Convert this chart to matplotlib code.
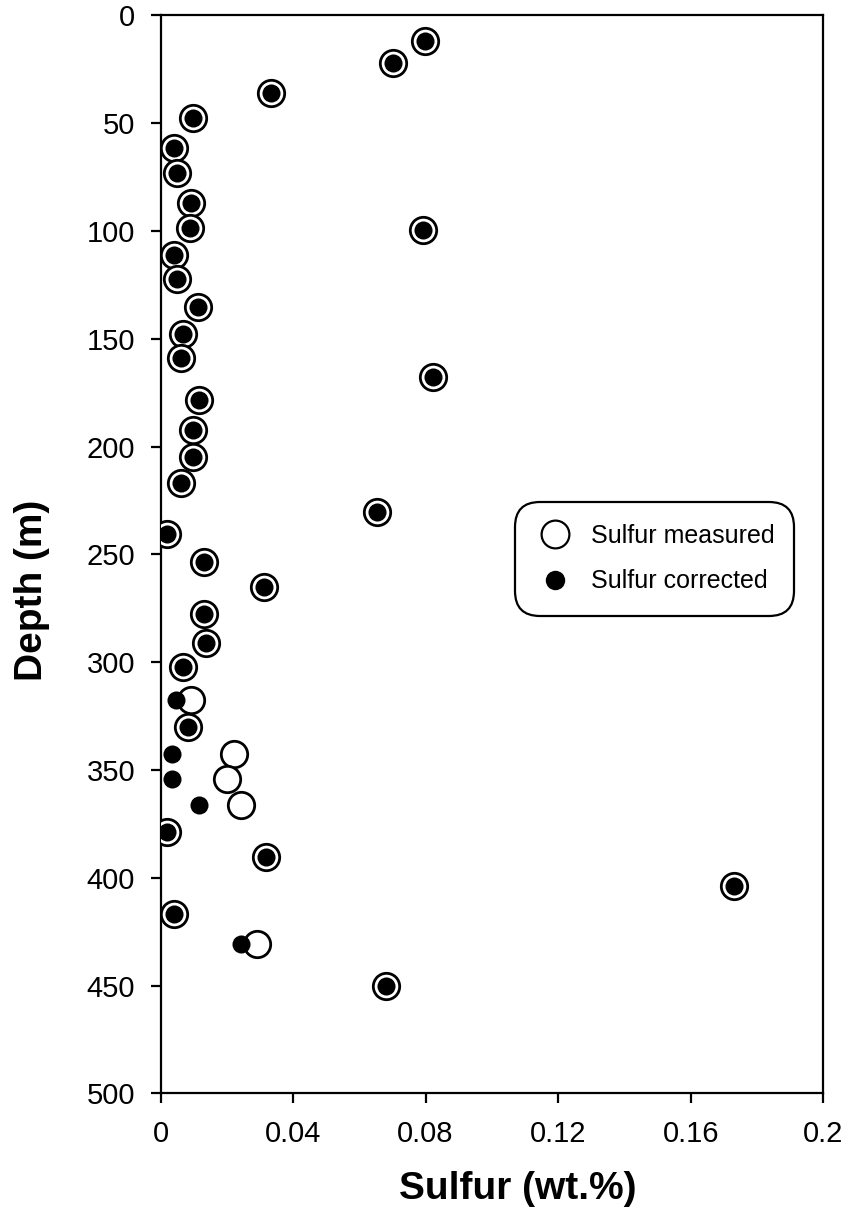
#!/usr/bin/env python3

from matplotlib import pyplot as plt
from matplotlib.lines import Line2D

# depth (m) and sulfur (wt.%)
depth = [11.8, 22.2, 36.1, 47.7, 61.6, 73.2, 86.8, 98.7, 99.5, 111.1,
         122.4, 135.3, 147.7, 159.0, 167.8, 178.3, 192.3, 204.9, 216.7, 230.1,
         240.6, 253.3, 265.2, 277.7, 290.9, 302.3, 317.5, 330.0, 342.5, 354.0,
         366.0, 378.6, 390.2, 404.0, 416.9, 430.8, 450.1]
s_measured = [0.0798, 0.0702, 0.0332, 0.0097, 0.0042, 0.0049, 0.0091, 0.0089, 0.0791, 0.0042,
              0.0049, 0.0112, 0.0069, 0.0061, 0.0821, 0.0117, 0.0097, 0.0097, 0.0062, 0.0652,
              0.0019, 0.0132, 0.0312, 0.0132, 0.0137, 0.0069, 0.0091, 0.0084, 0.0223, 0.0200,
              0.0242, 0.0021, 0.0318, 0.1730, 0.0041, 0.0290, 0.0680]
s_corrected = [0.0798, 0.0702, 0.0332, 0.0097, 0.0042, 0.0049, 0.0091, 0.0089, 0.0791, 0.0042,
               0.0049, 0.0112, 0.0069, 0.0061, 0.0821, 0.0117, 0.0097, 0.0097, 0.0062, 0.0652,
               0.0019, 0.0132, 0.0312, 0.0132, 0.0137, 0.0069, 0.0047, 0.0084, 0.0034, 0.0034,
               0.0117, 0.0021, 0.0318, 0.1730, 0.0041, 0.0242, 0.0680]

xticks = [0, 0.04, 0.08, 0.12, 0.16, 0.2]
xticklabels = ['0', '0.04', '0.08', '0.12', '0.16', '0.2']
yticks = [0, 50, 100, 150, 200, 250, 300, 350, 400, 450, 500]

plt.rcParams['font.family'] = ['Liberation Sans', 'DejaVu Sans']

fig = plt.figure(figsize=(8.56, 12.17), dpi=100)
ax = fig.add_axes([0.1875, 0.1015, 0.7743, 0.8858])

ax.plot(s_measured, depth, ls='none', marker='o', ms=19, mfc='white',
        mec='black', mew=2.0, zorder=3)
ax.plot(s_corrected, depth, ls='none', marker='o', ms=13, mfc='black',
        mec='none', zorder=4)

ax.set_xlim(0, 0.2)
ax.set_ylim(500, 0)
ax.set_xticks(xticks)
ax.set_xticklabels(xticklabels)
ax.set_yticks(yticks)

for sp in ax.spines.values():
    sp.set_linewidth(1.6)
ax.tick_params(direction='out', length=7.2, width=1.6, labelsize=21)
ax.tick_params(axis='y', pad=11)
ax.tick_params(axis='x', pad=12)

ax.set_xlabel('Sulfur (wt.%)', fontsize=28, fontweight='bold')
ax.xaxis.set_label_coords(0.539, -0.072)
ax.set_ylabel('Depth (m)', fontsize=28, fontweight='bold')
ax.yaxis.set_label_coords(-0.167, 0.467)

handles = [
    Line2D([], [], ls='none', marker='o', ms=20, mfc='white', mec='black', mew=1.6,
           label='Sulfur measured'),
    Line2D([], [], ls='none', marker='o', ms=14, mfc='black', mec='none',
           label='Sulfur corrected'),
]
leg = ax.legend(handles=handles, loc='upper left', bbox_to_anchor=(0.535, 0.0, 0.421, 0.549),
                mode='expand', frameon=True, fancybox=True, fontsize=18,
                handletextpad=0.75, borderpad=0.9, labelspacing=0.85,
                handlelength=1.4, borderaxespad=0)
frame = leg.get_frame()
frame.set_edgecolor('black')
frame.set_linewidth(1.6)
frame.set_alpha(1)
frame.set_boxstyle('round,pad=0.0,rounding_size=1.0')

plt.savefig('out.png', dpi=100)
